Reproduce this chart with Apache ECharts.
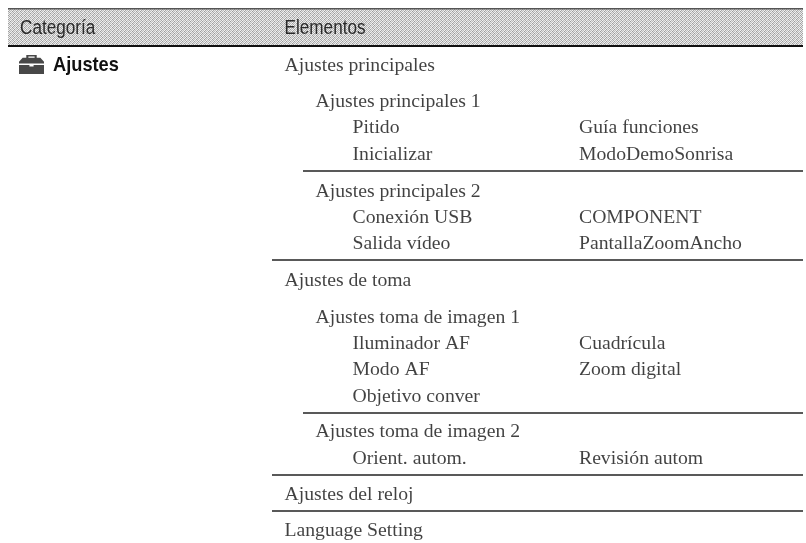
<!DOCTYPE html>
<html><head><meta charset="utf-8">
<style>html,body{margin:0;padding:0;background:#fff}#c{width:806px;height:543px}</style>
<script src="https://cdn.jsdelivr.net/npm/echarts@6/dist/echarts.min.js"></script>
</head><body><div id="c"></div>
<script>
const headers = ['Categoría', 'Elementos'];
const categoryName = ['Ajustes'];
const sections = ['Ajustes principales', 'Ajustes de toma', 'Ajustes del reloj', 'Language Setting'];
const groups = ['Ajustes principales 1', 'Ajustes principales 2', 'Ajustes toma de imagen 1', 'Ajustes toma de imagen 2'];
const itemsLeft = ['Pitido', 'Inicializar', 'Conexión USB', 'Salida vídeo', 'Iluminador AF', 'Modo AF', 'Objetivo conver', 'Orient. autom.'];
const itemsRight = ['Guía funciones', 'ModoDemoSonrisa', 'COMPONENT', 'PantallaZoomAncho', 'Cuadrícula', 'Zoom digital', 'Revisión autom'];

const sectionRows = [65.5, 281, 495, 531];
const groupRows = [102, 192, 318, 432];
const itemLeftRows = [128, 155, 218, 244, 344, 370, 397, 459];
const itemRightRows = [128, 155, 218, 244, 344, 370, 459];
const headerRow = 28.5, categoryRow = 65;
const X = {cat: 20, catName: 53, sec: 284.5, grp: 315.5, item: 352.5, right: 579, iconX: 31.5, iconY: 64.5};
const rulesMajor = [260, 475, 511], rulesMinor = [171, 413];

const patRows = ['#e4e4e4 #a8a8a8 #f2f2f2 #bcbcbc','#bcbcbc #f2f2f2 #9c9c9c #e4e4e4','#f2f2f2 #a8a8a8 #e4e4e4 #bcbcbc','#9c9c9c #e4e4e4 #bcbcbc #f2f2f2'];
const pat = document.createElement('canvas'); pat.width = 4; pat.height = 4;
const g = pat.getContext('2d');
patRows.forEach((r,y)=>r.split(' ').forEach((c,x)=>{g.fillStyle=c;g.fillRect(x,y,1,1);}));

const serif = 'Liberation Serif';
function textSeries(texts, x, rows, size) {
  return {type:'scatter', symbolSize:0, silent:true, animation:false,
    data: texts.map((t,i)=>({value:[x, rows[i]], t})),
    label:{show:true, position:'right', distance:0, formatter:p=>p.data.t,
      fontFamily:serif, fontSize:size, color:'#111'}};
}
function condensedSeries(texts, xs, rows, font, scale, color) {
  return {type:'custom', silent:true, animation:false,
    data: texts.map((t,i)=>[xs[i], rows[i], i]),
    renderItem:(p,api)=>{
      const a=api.coord([api.value(0),api.value(1)]);
      return {type:'text',x:a[0],y:a[1],scaleX:scale,
        style:{text:texts[api.value(2)],font,fill:color,textAlign:'left',textVerticalAlign:'middle'}};
    }};
}
const bandSeries = {type:'custom', silent:true, animation:false, data:[[8,803,9,46]],
  renderItem:(p,api)=>{
    const a=api.coord([api.value(0),api.value(2)]), b=api.coord([api.value(1),api.value(3)]);
    return {type:'group',children:[
      {type:'rect',shape:{x:a[0],y:a[1],width:b[0]-a[0],height:b[1]-a[1]},style:{fill:{image:pat,repeat:'repeat'}}},
      {type:'rect',shape:{x:a[0],y:a[1]-1,width:b[0]-a[0],height:1.5},style:{fill:'#555'}},
      {type:'rect',shape:{x:a[0],y:b[1]-1,width:b[0]-a[0],height:2},style:{fill:'#111'}}
    ]};
  }};
function ruleSeries(rows, x0) {
  return {type:'custom', silent:true, animation:false, data:rows.map(r=>[x0,803,r]),
    renderItem:(p,api)=>{
      const a=api.coord([api.value(0),api.value(2)]), b=api.coord([api.value(1),api.value(2)]);
      return {type:'rect',shape:{x:a[0],y:a[1]-0.75,width:b[0]-a[0],height:1.5},style:{fill:'#222'}};
    }};
}
const iconPath = 'path://M7 0h10v2.5h3.5L24 6.5v1.5H0V6.5L3.5 2.5H7zM9 1.5v1h6v-1zM0 9.5h10v1.5h4V9.5h10v8.5H0z';
const iconSeries = {type:'scatter', silent:true, animation:false, symbol:iconPath, symbolKeepAspect:false, symbolSize:[25,19],
  itemStyle:{color:'#1a1a1a'}, data:[[X.iconX, X.iconY]]};

const chart = echarts.init(document.getElementById('c'), null, {renderer:'canvas'});
chart.setOption({
  animation:false,
  grid:{left:0,right:0,top:0,bottom:0},
  xAxis:{type:'value',min:0,max:806,show:false},
  yAxis:{type:'value',min:0,max:543,inverse:true,show:false},
  series:[
    bandSeries,
    ruleSeries(rulesMajor, 272),
    ruleSeries(rulesMinor, 303),
    condensedSeries(headers, [X.cat, X.sec], [headerRow, headerRow], '19.5px "Liberation Sans"', 0.88, '#2a2a2a'),
    iconSeries,
    condensedSeries(categoryName, [X.catName], [categoryRow], 'bold 20.5px "Liberation Sans"', 0.89, '#111'),
    textSeries(sections, X.sec, sectionRows, 19.7),
    textSeries(groups, X.grp, groupRows, 19.7),
    textSeries(itemsLeft, X.item, itemLeftRows, 19.7),
    textSeries(itemsRight, X.right, itemRightRows, 19.7)
  ]
});
</script></body></html>
